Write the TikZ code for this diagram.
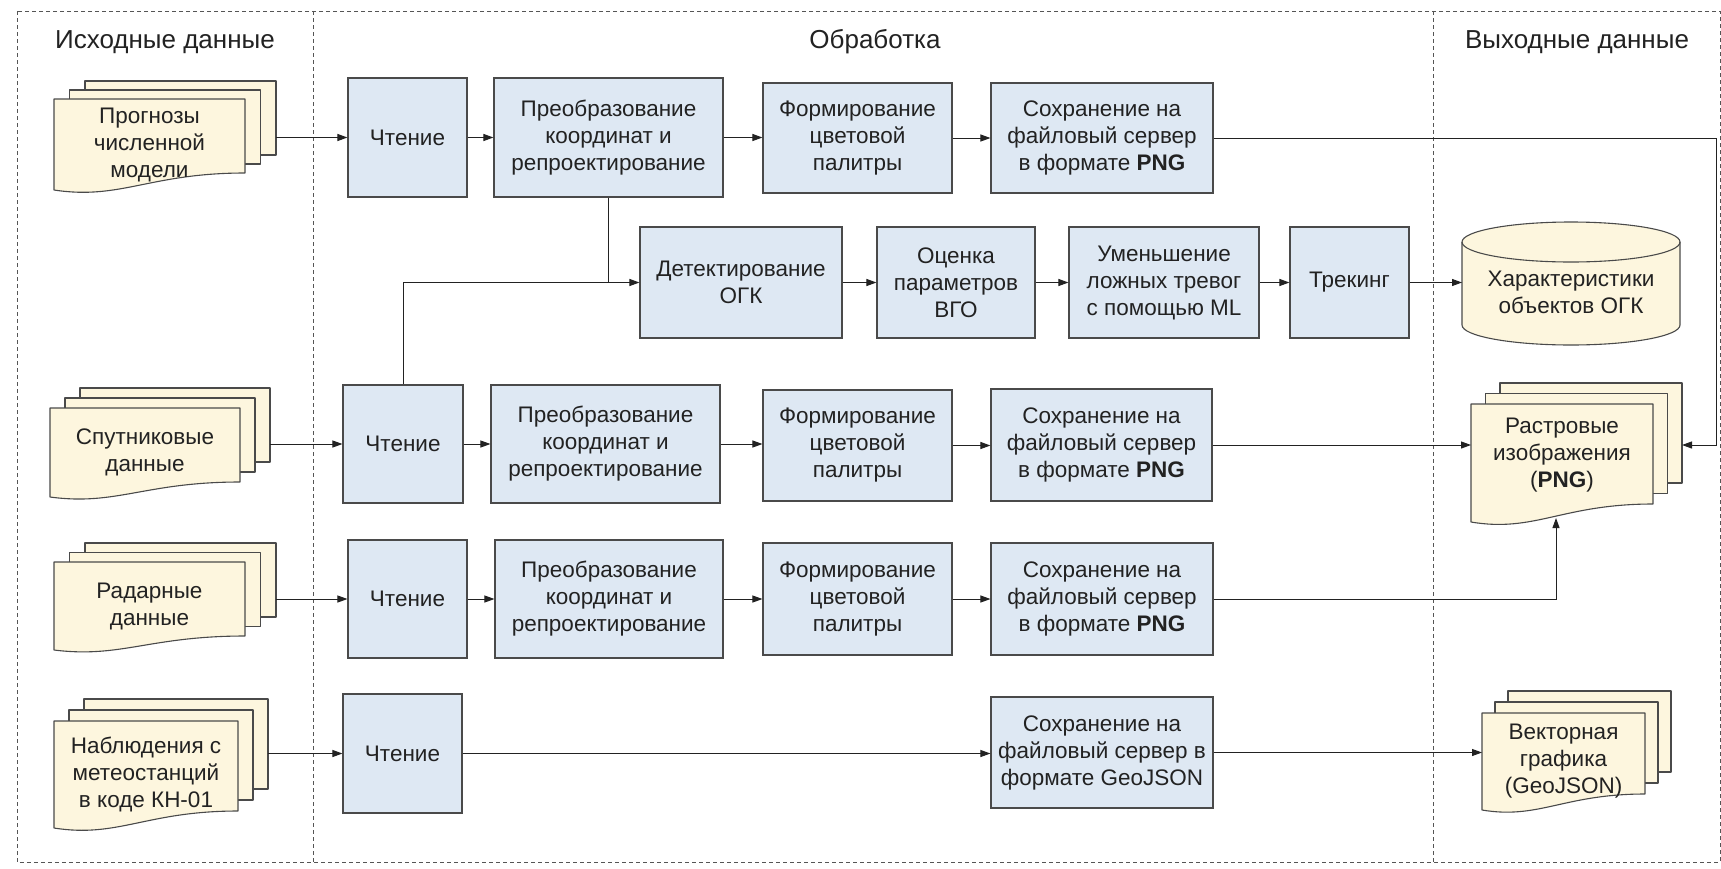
\documentclass[tikz,border=0pt]{standalone}
\usepackage{fontspec}
\setmainfont{Liberation Sans}
\usetikzlibrary{arrows.meta,calc}

\definecolor{boxfill}{HTML}{DEE8F3}
\definecolor{boxline}{HTML}{4A4A4A}
\definecolor{docfill}{HTML}{FDF6DE}
\definecolor{ink}{HTML}{222222}
\definecolor{framec}{HTML}{555555}

\newcommand{\boxfont}{\fontsize{22.5}{27}\selectfont}
\newcommand{\titlefont}{\fontsize{26}{30}\selectfont}
\newcommand{\dshift}{0}

\tikzset{
  blk/.style={draw=boxline, fill=boxfill, line width=1.1pt, align=center,
              text=ink, inner sep=2pt, font=\boxfont},
  arr/.style={draw=ink, line width=1pt, -{Triangle[length=10pt,width=7pt]}},
  ln/.style={draw=ink, line width=1pt},
  docpage/.style={draw=boxline, fill=docfill, line width=1.1pt, line join=round},
  doctext/.style={align=center, text=ink, inner sep=0pt, font=\boxfont},
  hull/.style={inner sep=0pt, outer sep=0pt, draw=none},
  framebox/.style={draw=framec, line width=1pt, dash pattern=on 4pt off 3pt},
  titletext/.style={font=\titlefont, text=ink},
  rim/.style={x radius=109pt, y radius=20pt},
}

% process block given by its corners: name, x1, y1, x2, y2, text
\newcommand{\blkat}[6]{%
  \node[blk, minimum width={#4-#2}, minimum height={#5-#3}] (#1)
    at ({(#2+#4)/2},{(#3+#5)/2}) {#6};}

% stack of three documents: name, x, y (front page top left), width,
% left height, right height, x offset, y offset, text
\newcommand{\mdoc}[9]{%
  \path[docpage] (#2+2*#7,#3-2*#8) rectangle ++(#4,#6);
  \path[docpage] (#2+#7,#3-#8) rectangle ++(#4,#6);
  \path[docpage] (#2,#3) -- ++(#4,0) -- ++(0,#6)
     .. controls (#2+0.5*#4,#3+#6) and (#2+0.35*#4,#3+#6+1.6*#5-1.6*#6) ..
     (#2,#3+#5) -- cycle;
  \node[hull, minimum width={#4+2*#7}, minimum height={#5+2*#8}] (#1)
     at ({#2+#4/2+#7},{#3-2*#8+#5/2+#8}) {};
  \node[doctext] (#1-t) at ({#2+#4/2},{#3+#5/2+\dshift}) {#9};}

\begin{document}
\begin{tikzpicture}[x=1pt,y=-1pt]
\useasboundingbox (0,0) rectangle (1721,868);
\fill[white] (0,0) rectangle (1721,868);

% swimlane frame
\draw[framebox] (17,11) rectangle (1720,862);
\draw[framebox] (313,11) -- (313,862);
\draw[framebox] (1433,11) -- (1433,862);
\node[titletext] (t-in)  at (165,42)  {Исходные данные};
\node[titletext] (t-pr)  at (875,42)  {Обработка};
\node[titletext] (t-out) at (1577,42) {Выходные данные};

% input data
\mdoc{nwp}{54}{99}{191}{91}{74}{15.5}{9}{Прогнозы\\численной\\модели}
\mdoc{sat}{50}{408}{190}{89}{74}{15}{10}{Спутниковые\\данные}
\mdoc{rad}{54}{562}{191}{88}{74}{15.5}{9.5}{Радарные\\данные}
\mdoc{obs}{54}{721}{184}{107}{90}{15}{11}{Наблюдения с\\метеостанций\\в коде КН-01}

% output data
\renewcommand{\dshift}{-8}
\mdoc{ras}{1471}{404}{182}{118}{100}{14.5}{10.5}{Растровые\\изображения\\(\textbf{PNG})}
\renewcommand{\dshift}{0}
\mdoc{vec}{1482}{713}{163}{97}{81}{13}{11}{Векторная\\графика\\(GeoJSON)}

% database of detected objects
\path[docpage] (1462,242) -- (1462,325) arc[start angle=180, end angle=360, rim]
   -- (1680,242) arc[start angle=0, end angle=180, rim] -- cycle;
\draw[docpage, fill=none] (1462,242) arc[start angle=180, end angle=360, rim];
\node[hull, minimum width=218pt, minimum height=123pt] (db) at (1571,283.5) {};
\node[doctext] (db-t) at (1571,292) {Характеристики\\объектов ОГК};

% processing: numerical model
\blkat{ch1}{348}{78}{467}{197}{Чтение}
\blkat{pr1}{494}{78}{723}{197}{Преобразование\\координат и\\репроектирование}
\blkat{fo1}{763}{83}{952}{193}{Формирование\\цветовой\\палитры}
\blkat{so1}{991}{83}{1213}{193}{Сохранение на\\файловый сервер\\в формате \textbf{PNG}}

% processing: convective cells
\blkat{det}{640}{227}{842}{338}{Детектирование\\ОГК}
\blkat{oc}{877}{227}{1035}{338}{Оценка\\параметров\\ВГО}
\blkat{um}{1069}{227}{1259}{338}{Уменьшение\\ложных тревог\\с помощью ML}
\blkat{tr}{1290}{227}{1409}{338}{Трекинг}

% processing: satellite
\blkat{ch3}{343}{385}{463}{503}{Чтение}
\blkat{pr3}{491}{385}{720}{503}{Преобразование\\координат и\\репроектирование}
\blkat{fo3}{763}{390}{952}{501}{Формирование\\цветовой\\палитры}
\blkat{so3}{991}{389}{1212}{501}{Сохранение на\\файловый сервер\\в формате \textbf{PNG}}

% processing: radar
\blkat{ch4}{348}{540}{467}{658}{Чтение}
\blkat{pr4}{495}{540}{723}{658}{Преобразование\\координат и\\репроектирование}
\blkat{fo4}{763}{543}{952}{655}{Формирование\\цветовой\\палитры}
\blkat{so4}{991}{543}{1213}{655}{Сохранение на\\файловый сервер\\в формате \textbf{PNG}}

% processing: station observations
\blkat{ch5}{343}{694}{462}{813}{Чтение}
\blkat{so5}{991}{697}{1213}{808}{Сохранение на\\файловый сервер в\\формате GeoJSON}

% routing points
\coordinate (rline) at (1716,0);
\coordinate (rasb) at (1556,518);

% connectors: numerical model
\draw[arr] (nwp.east |- ch1.west) -- (ch1.west);
\draw[arr] (ch1.east) -- (pr1.west);
\draw[arr] (pr1.east) -- (pr1.east -| fo1.west);
\draw[arr] (fo1.east) -- (so1.west);
\draw[arr] (so1.east) -- (so1.east -| rline) -- (rline |- so3.east) -- (so3.east -| ras.east);

% connectors: convective cells
\draw[ln] (pr1.south) -- (pr1.south |- det.west);
\draw[arr] (ch3.north) |- (det.west);
\draw[arr] (det.east) -- (oc.west);
\draw[arr] (oc.east) -- (um.west);
\draw[arr] (um.east) -- (tr.west);
\draw[arr] (tr.east) -- (tr.east -| db.west);

% connectors: satellite
\draw[arr] (sat.east |- ch3.west) -- (ch3.west);
\draw[arr] (ch3.east) -- (pr3.west);
\draw[arr] (pr3.east) -- (pr3.east -| fo3.west);
\draw[arr] (fo3.east) -- (fo3.east -| so3.west);
\draw[arr] (so3.east) -- (so3.east -| ras.west);

% connectors: radar
\draw[arr] (rad.east |- ch4.west) -- (ch4.west);
\draw[arr] (ch4.east) -- (pr4.west);
\draw[arr] (pr4.east) -- (fo4.west);
\draw[arr] (fo4.east) -- (so4.west);
\draw[arr] (so4.east) -- (so4.east -| rasb) -- (rasb);

% connectors: station observations
\draw[arr] (obs.east |- ch5.west) -- (ch5.west);
\draw[arr] (ch5.east) -- (ch5.east -| so5.west);
\draw[arr] (so5.east) -- (so5.east -| vec.west);
\end{tikzpicture}
\end{document}
